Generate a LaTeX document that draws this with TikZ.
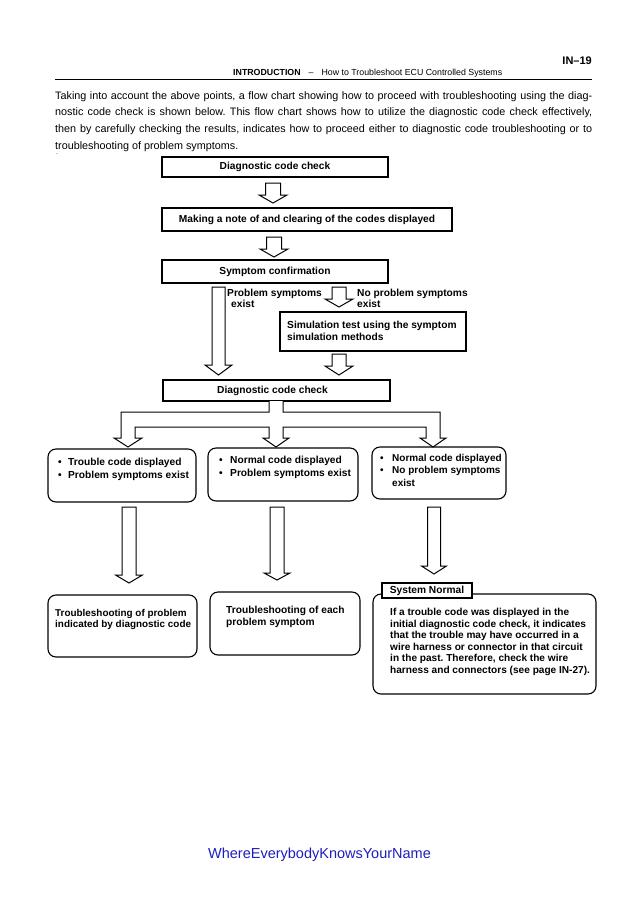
\documentclass[tikz,border=0pt]{standalone}
\usepackage{fontspec}
\setmainfont{Liberation Sans}
\usetikzlibrary{calc}
\definecolor{footblue}{RGB}{30,30,190}
\frenchspacing
\newcommand\hollowarrow[5]{%
  \filldraw[blk] let \p1=#1, \p2=#2 in
    (\x2-#3,\y1) -- (\x2-#3,\y2+#5) -- (\x2-#4,\y2+#5) -- (\x2,\y2)
    -- (\x2+#4,\y2+#5) -- (\x2+#3,\y2+#5) -- (\x2+#3,\y1) -- cycle;}
\begin{document}
\begin{tikzpicture}[x=1pt,y=-1pt,
  box/.style={draw=black, line width=1.1pt, fill=white, inner sep=0pt, outer sep=0pt},
  rbox/.style={box, rounded corners=8pt},
  blk/.style={draw=black, line width=1pt, fill=white, line join=miter},
  ft/.style={font=\fontsize{10.2}{12}\selectfont\bfseries},
  txt/.style={anchor=north west, inner sep=0pt, align=left},
]
\useasboundingbox (0,0) rectangle (638,903);
\fill[white] (0,0) rectangle (638,903);

% page header
\node[anchor=east, inner sep=0pt, font=\fontsize{11}{13}\selectfont\bfseries] (pg) at (592,61) {IN--19};
\node[anchor=west, inner sep=0pt, font=\fontsize{8.8}{10}\selectfont] (hdr) at (233,73)
  {\textbf{INTRODUCTION}\hspace{8pt}--\hspace{8pt}How to Troubleshoot ECU Controlled Systems};
\coordinate (rl) at (55,79);
\coordinate (rr) at (592,79);
\draw[line width=1pt] (rl) -- (rr);

% paragraph
\node[txt, font=\fontsize{10.8}{16.7}\selectfont] (para) at (55,91)
  {\makebox[537pt][s]{Taking into account the above points, a flow chart showing how to proceed with troubleshooting using the diag-}\\
   \makebox[537pt][s]{nostic code check is shown below. This flow chart shows how to utilize the diagnostic code check effectively,}\\
   \makebox[537pt][s]{then by carefully checking the results, indicates how to proceed either to diagnostic code troubleshooting or to}\\
   troubleshooting of problem symptoms.};
\node[inner sep=0pt, font=\fontsize{6}{6}\selectfont, text=black!60] (tick) at (57,155) {-};

% boxes
\node[box, ft, minimum width=226pt, minimum height=20pt] (b1) at (275,167) {Diagnostic code check};
\node[box, ft, minimum width=290pt, minimum height=23pt] (b2) at (307,219.5) {Making a note of and clearing of the codes displayed};
\node[box, ft, minimum width=226pt, minimum height=23pt] (b3) at (275,271.5) {Symptom confirmation};
\node[box, minimum width=186pt, minimum height=39pt] (b4) at (373,331.5) {};
\node[box, ft, minimum width=227pt, minimum height=21pt] (b5) at (276.5,390.5) {\hspace*{-8pt}Diagnostic code check};

\node[rbox, minimum width=148pt, minimum height=53pt] (bA) at (122,475.5) {};
\node[rbox, minimum width=150pt, minimum height=53pt] (bB) at (283,474.5) {};
\node[rbox, minimum width=134pt, minimum height=52pt] (bC) at (439,473) {};
\node[rbox, minimum width=149pt, minimum height=62pt] (bD) at (122.5,626) {};
\node[rbox, minimum width=150pt, minimum height=63pt] (bE) at (285,623.5) {};
\node[rbox, minimum width=223pt, minimum height=100pt] (bF) at (484.5,644) {};
\node[box, ft, minimum width=90pt, minimum height=15pt] (sn) at (427,590.5) {System Normal};

% texts
\node[txt, ft] (t4) at (287,320.5) {Simulation test using the symptom\\simulation methods};
\node[txt, font=\fontsize{10.2}{11}\selectfont\bfseries] (tP) at (227,288.5) {Problem symptoms\\\hspace*{4pt}exist};
\node[txt, font=\fontsize{10.2}{11}\selectfont\bfseries] (tN) at (357,288.5) {No problem symptoms\\exist};
\node[txt, font=\fontsize{10.2}{12.5}\selectfont\bfseries] (tA) at (58,458)
  {\makebox[10pt][l]{•}Trouble code displayed\\\makebox[10pt][l]{•}Problem symptoms exist};
\node[txt, font=\fontsize{10.2}{12.5}\selectfont\bfseries] (tB) at (219,456)
  {\makebox[11pt][l]{•}Normal code displayed\\\makebox[11pt][l]{•}Problem symptoms exist};
\node[txt, font=\fontsize{10}{12.5}\selectfont\bfseries] (tC) at (380,454)
  {\makebox[12pt][l]{•}Normal code displayed\\\makebox[12pt][l]{•}No problem symptoms\\\hspace*{12pt}exist};
\node[txt, font=\fontsize{9.9}{11.5}\selectfont\bfseries] (tD) at (55,609)
  {Troubleshooting of problem\\indicated by diagnostic code};
\node[txt, font=\fontsize{10.2}{12}\selectfont\bfseries] (tE) at (226,606)
  {Troubleshooting of each\\problem symptom};
\node[txt, font=\fontsize{10.1}{11.6}\selectfont\bfseries] (tF) at (390,608)
  {If a trouble code was displayed in the\\initial diagnostic code check, it indicates\\that the trouble may have occurred in a\\wire harness or connector in that circuit\\in the past. Therefore, check the wire\\harness and connectors (see page IN-27).};

% arrow end points
\coordinate (a1s) at (273,183);   \coordinate (a1e) at (273,203);
\coordinate (a2s) at (274,237);   \coordinate (a2e) at (274,257);
\coordinate (aLs) at (218.5,287); \coordinate (aLe) at (218.5,375);
\coordinate (aSs) at (339,287);   \coordinate (aSe) at (339,307);
\coordinate (a4s) at (339,354);   \coordinate (a4e) at (339,375);
\coordinate (L1s) at (129,507);   \coordinate (L1e) at (129,583);
\coordinate (L2s) at (277,507);   \coordinate (L2e) at (277,580);
\coordinate (L3s) at (434,507);   \coordinate (L3e) at (434,574);

\hollowarrow{(a1s)}{(a1e)}{7.5pt}{14pt}{8pt}
\hollowarrow{(a2s)}{(a2e)}{7.5pt}{14pt}{8pt}
\hollowarrow{(aLs)}{(aLe)}{6.5pt}{13.5pt}{10pt}
\hollowarrow{(aSs)}{(aSe)}{7pt}{14pt}{8pt}
\hollowarrow{(a4s)}{(a4e)}{7pt}{14pt}{9pt}
\hollowarrow{(L1s)}{(L1e)}{7pt}{13.5pt}{8pt}
\hollowarrow{(L2s)}{(L2e)}{7pt}{13pt}{7pt}
\hollowarrow{(L3s)}{(L3e)}{6.5pt}{12.5pt}{8pt}

% branching arrow below the second diagnostic code check
\coordinate (brs) at ($(b5.south)+(-7.5,0)$);
\filldraw[blk] (brs) -- (269,412) -- (121,412) -- (121,438) -- (114,438) -- (128,447) -- (142,438)
  -- (135,438) -- (135,427) -- (269,427) -- (269,438) -- (263,438) -- (276,447) -- (289,438)
  -- (283,438) -- (283,427) -- (426,427) -- (426,438) -- (420,438) -- (433,447) -- (446,438)
  -- (440,438) -- (440,412) -- (283,412) -- (283,401);

% footer
\node[inner sep=0pt, font=\fontsize{14.5}{16}\selectfont, text=footblue] (foot) at (319.5,855) {WhereEverybodyKnowsYourName};
\end{tikzpicture}
\end{document}
